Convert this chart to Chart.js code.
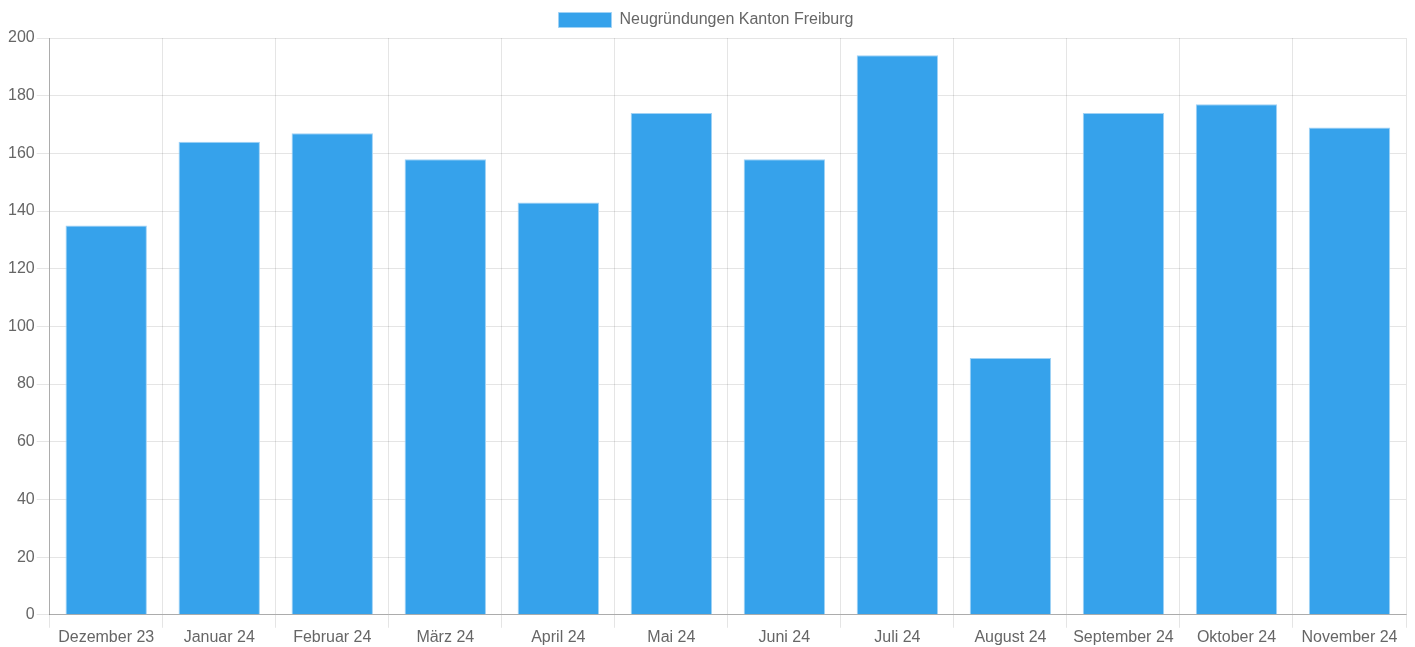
<!DOCTYPE html>
<html>
<head>
<meta charset="utf-8">
<script src="https://cdn.jsdelivr.net/npm/chart.js@4/dist/chart.umd.min.js"></script>
<style>
  html, body { margin: 0; padding: 0; background: #fff; }
  #grafico { display: block; }
</style>
</head>
<body>
<canvas id="grafico" width="1415" height="647"></canvas>
<script>
// meses y valores
const meses = ["Dezember 23", "Januar 24", "Februar 24", "März 24", "April 24", "Mai 24",
  "Juni 24", "Juli 24", "August 24", "September 24", "Oktober 24", "November 24"];
const neugruendungen = [135, 164, 167, 158, 143, 174, 158, 194, 89, 174, 177, 169];
const etiqueta = "Neugründungen Kanton Freiburg";

const ctx = document.querySelector("#grafico");
Chart.defaults.font.family = "'Liberation Sans', Arial, sans-serif";
Chart.defaults.font.size = 16;
Chart.defaults.color = "#666";

const myChart = new Chart(ctx, {
  type: "bar",
  data: {
    labels: meses,
    datasets: [
      {
        label: etiqueta,
        data: neugruendungen,
        backgroundColor: "rgb(54, 162, 235)",
        borderColor: "rgba(160, 210, 245, 1)",
        borderWidth: 1,
      },
    ],
  },
  options: {
    responsive: false,
    animation: false,
    layout: { padding: { left: 6, right: 9, top: 2, bottom: 0 } },
    plugins: {
      legend: {
        labels: { boxWidth: 53, boxHeight: 15, padding: 10 },
      },
      tooltip: { enabled: false },
    },
    scales: {
      x: {
        grid: { color: "rgba(0,0,0,0.1)", tickLength: 13, offset: true },
        border: { color: "rgba(0,0,0,0.25)" },
        ticks: { padding: 0, maxRotation: 0 },
      },
      y: {
        min: 0,
        max: 200,
        ticks: { stepSize: 20, padding: 2 },
        grid: { color: "rgba(0,0,0,0.1)", tickLength: 13 },
        border: { color: "rgba(0,0,0,0.25)" },
      },
    },
  },
});
</script>
</body>
</html>
